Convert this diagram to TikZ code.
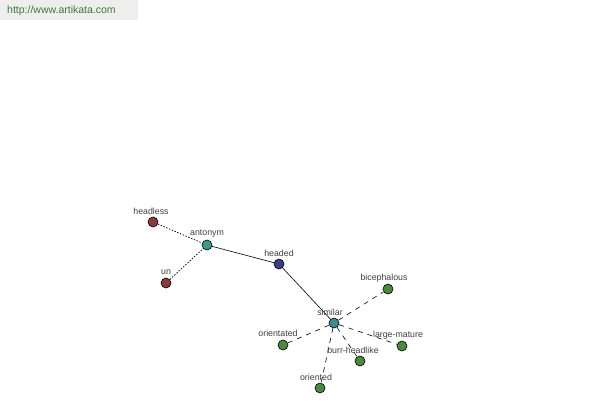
\documentclass[tikz,border=0pt]{standalone}
\usepackage{fontspec}
\setmainfont{Liberation Sans}
\begin{document}
\begin{tikzpicture}[x=1pt,y=-1pt,
  dot/.style={circle,draw=black,line width=0.6pt,minimum size=10pt,inner sep=0pt},
  lbl/.style={font=\fontsize{8.8}{9}\selectfont,text=black!75,inner sep=0pt},
  solidedge/.style={draw=black,line width=0.6pt},
  dotedge/.style={draw=black,line width=0.7pt,dash pattern=on 1.5pt off 1.5pt},
  dashedge/.style={draw=black,line width=0.6pt,dash pattern=on 5pt off 5pt}]
\definecolor{cred}{HTML}{8B3A3A}
\definecolor{cteal}{HTML}{3A9A8C}
\definecolor{cblue}{HTML}{3A3C8A}
\definecolor{csim}{HTML}{3A8C90}
\definecolor{cgreen}{HTML}{4A8A3E}
\definecolor{hdrbg}{HTML}{EEEEEE}
\definecolor{hdrtx}{HTML}{3C7A3C}
\useasboundingbox (0,0) rectangle (600,400);
\fill[white] (0,0) rectangle (600,400);
\fill[hdrbg] (0,0) rectangle (138,20);
\node[anchor=west,font=\fontsize{10.5}{12}\selectfont,text=hdrtx,inner sep=0pt] (hdr) at (7,11) {http://www.artikata.com};
% nodes
\node[dot,fill=cred] (headless) at (153,222) {};
\node[dot,fill=cteal] (antonym) at (207,245) {};
\node[dot,fill=cred] (un) at (166,283) {};
\node[dot,fill=cblue] (headed) at (279,264) {};
\node[dot,fill=csim] (similar) at (334,323) {};
\node[dot,fill=cgreen] (bicephalous) at (388,289) {};
\node[dot,fill=cgreen] (orientated) at (283,345) {};
\node[dot,fill=cgreen] (largemature) at (402,346) {};
\node[dot,fill=cgreen] (burr) at (360,361) {};
\node[dot,fill=cgreen] (oriented) at (320,388) {};
% edges
\path[dotedge] (headless) -- (antonym);
\path[dotedge] (un) -- (antonym);
\path[solidedge] (antonym) -- (headed);
\path[solidedge] (headed) -- (similar);
\path[dashedge] (similar) -- (bicephalous);
\path[dashedge] (similar) -- (orientated);
\path[dashedge] (similar) -- (largemature);
\path[dashedge] (similar) -- (burr);
\path[dashedge] (similar) -- (oriented);
% labels
\node[lbl] (lheadless) at (151,211) {headless};
\node[lbl] (lantonym) at (207,234) {antonym};
\node[lbl] (lun) at (166,272) {un};
\node[lbl] (lheaded) at (279,253) {headed};
\node[lbl] (lsimilar) at (330,312) {similar};
\node[lbl] (lbicephalous) at (384,278) {bicephalous};
\node[lbl] (lorientated) at (278,333) {orientated};
\node[lbl] (llargemature) at (398,335) {large-mature};
\node[lbl] (lburr) at (353,350) {burr-headlike};
\node[lbl] (loriented) at (316,377) {oriented};
\end{tikzpicture}
\end{document}
